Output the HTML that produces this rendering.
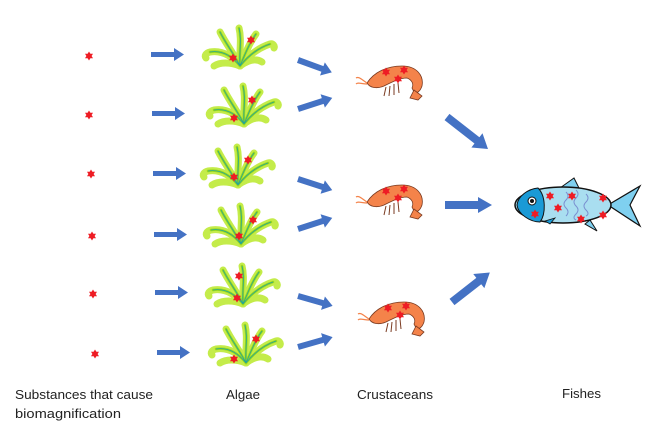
<!DOCTYPE html>
<html><head><meta charset="utf-8"><style>
html,body{margin:0;padding:0;background:#fff;}
svg{display:block;}
text{font-family:"Liberation Sans",sans-serif;font-size:13px;fill:#222;}
</style></head><body>
<svg width="669" height="433" viewBox="0 0 669 433" xmlns="http://www.w3.org/2000/svg">
<defs>
<g id="st"><path d="M0,-4.5 L1.4,-2.3 4,-2.3 2.6,0 4,2.3 1.4,2.3 0,4.5 -1.4,2.3 -4,2.3 -2.6,0 -4,-2.3 -1.4,-2.3Z" fill="#ee1c24"/></g>
<g id="alg">
<g fill="none" stroke="#c4ec4a" stroke-width="7" stroke-linecap="round">
<path d="M0,20 C-8,10 -18,4 -30,6 C-34,7 -36,10 -34,12"/>
<path d="M0,20 C-6,8 -14,-2 -20,-14"/>
<path d="M0,20 C-1,6 2,-6 -1,-18"/>
<path d="M0,20 C5,8 10,-4 16,-12"/>
<path d="M0,20 C8,10 18,2 30,-2 C33,-3 35,0 34,2"/>
<path d="M0,20 C-10,16 -20,16 -26,20"/>
<path d="M0,20 C8,14 16,12 22,16"/>
</g>
<g fill="none" stroke="#9ad81c" stroke-width="2.5" stroke-linecap="round">
<path d="M0,20 C-8,10 -18,4 -30,6"/>
<path d="M0,20 C-6,8 -14,-2 -20,-14"/>
<path d="M0,20 C-1,6 2,-6 -1,-18"/>
<path d="M0,20 C5,8 10,-4 16,-12"/>
<path d="M0,20 C8,10 18,2 30,-2"/>
</g>
<g fill="none" stroke="#22a39a" stroke-width="0.8">
<path d="M0,20 C-8,10 -18,4 -30,6"/>
<path d="M0,20 C-6,8 -14,-2 -20,-14"/>
<path d="M0,20 C-1,6 2,-6 -1,-18"/>
<path d="M0,20 C5,8 10,-4 16,-12"/>
<path d="M0,20 C8,10 18,2 30,-2"/>
</g>
</g>
<g id="shr">
<path d="M-25,3 C-18,-8 -5,-14 10,-14 C25,-14 32,-4 30,6 C28,12 24,14 22,12 L20,8 C22,4 20,0 15,-2 C8,-2 0,2 -8,6 C-15,9 -22,8 -25,3Z" fill="#f4834a" stroke="#7a3a20" stroke-width="0.8"/>
<path d="M22,10 L18,18 26,20 30,16 Z" fill="#f4834a" stroke="#7a3a20" stroke-width="0.8"/>
<g stroke="#7a3a20" stroke-width="1"><path d="M-6,7 L-8,16 M-2,6 L-3,16 M2,4 L2,15 M6,3 L7,13"/></g>
<path d="M-25,3 C-30,0 -33,-4 -36,-2 M-25,4 C-30,4 -34,2 -36,4" stroke="#f4834a" stroke-width="1.2" fill="none"/>
<use href="#st" x="-6" y="-8"/><use href="#st" x="12" y="-10"/><use href="#st" x="6" y="-1"/>
</g>
</defs>

<g fill="#4472c4">
<polygon points="151,52 174,52 174,48 184,54.5 174,61 174,57 151,57"/>
<polygon points="152,111 175,111 175,107 185,113.5 175,120 175,116 152,116"/>
<polygon points="153,171 176,171 176,167 186,173.5 176,180 176,176 153,176"/>
<polygon points="154,232 177,232 177,228 187,234.5 177,241 177,237 154,237"/>
<polygon points="155,290 178,290 178,286 188,292.5 178,299 178,295 155,295"/>
<polygon points="157,350 180,350 180,346 190,352.5 180,359 180,355 157,355"/>
<g transform="translate(298,60) rotate(20)"><polygon points="0,-3 26,-3 26,-7 36,0 26,7 26,3 0,3"/></g>
<g transform="translate(298,109) rotate(-18)"><polygon points="0,-3 26,-3 26,-7 36,0 26,7 26,3 0,3"/></g>
<g transform="translate(298,179) rotate(18)"><polygon points="0,-3 26,-3 26,-7 36,0 26,7 26,3 0,3"/></g>
<g transform="translate(298,229) rotate(-18)"><polygon points="0,-3 26,-3 26,-7 36,0 26,7 26,3 0,3"/></g>
<g transform="translate(298,296) rotate(16)"><polygon points="0,-3 26,-3 26,-7 36,0 26,7 26,3 0,3"/></g>
<g transform="translate(298,347) rotate(-16)"><polygon points="0,-3 26,-3 26,-7 36,0 26,7 26,3 0,3"/></g>
<g transform="translate(447,117) rotate(38)"><polygon points="0,-4 38,-4 38,-9 52,0 38,9 38,4 0,4"/></g>
<polygon points="445,201 478,201 478,197 492,205 478,213 478,209 445,209"/>
<g transform="translate(452,302) rotate(-38)"><polygon points="0,-4 34,-4 34,-9 48,0 34,9 34,4 0,4"/></g>
</g>

<use href="#st" x="89" y="56"/><use href="#st" x="89" y="115"/><use href="#st" x="91" y="174"/>
<use href="#st" x="92" y="236"/><use href="#st" x="93" y="294"/><use href="#st" x="95" y="354"/>

<g transform="translate(240,46)"><use href="#alg"/><use href="#st" x="11" y="-6"/><use href="#st" x="-7" y="12"/></g>
<g transform="translate(244,104)"><use href="#alg"/><use href="#st" x="8" y="-4"/><use href="#st" x="-10" y="14"/></g>
<g transform="translate(238,165)"><use href="#alg"/><use href="#st" x="10" y="-5"/><use href="#st" x="-4" y="12"/></g>
<g transform="translate(241,224)"><use href="#alg"/><use href="#st" x="12" y="-4"/><use href="#st" x="-2" y="12"/></g>
<g transform="translate(243,284)"><use href="#alg"/><use href="#st" x="-4" y="-8"/><use href="#st" x="-6" y="14"/></g>
<g transform="translate(246,343)"><use href="#alg"/><use href="#st" x="10" y="-4"/><use href="#st" x="-12" y="16"/></g>

<use href="#shr" transform="translate(392,80)"/>
<use href="#shr" transform="translate(392,199)"/>
<use href="#shr" transform="translate(394,316)"/>

<path d="M560,188 L574,178 L580,190Z" fill="#7fd0f0" stroke="#111" stroke-width="1"/>
<path d="M608,205 L640,186 L630,205 L640,226Z" fill="#7fd0f0" stroke="#111" stroke-width="1.2"/>
<path d="M590,220 L597,231 L585,224Z" fill="#7fd0f0" stroke="#111" stroke-width="1"/>
<ellipse cx="563" cy="205" rx="48" ry="18" fill="#a9def0" stroke="#111" stroke-width="1.5"/>
<path d="M538,188 C546,196 546,214 540,222 C530,222 518,214 517,205 C518,196 528,189 538,188Z" fill="#1a9ad6" stroke="#111" stroke-width="1"/>
<circle cx="532" cy="201" r="4" fill="#fff" stroke="#111"/><circle cx="532" cy="201" r="2" fill="#111"/>
<path d="M545,221 L555,218 L550,224Z" fill="#1a9ad6" stroke="#111" stroke-width="0.8"/>
<g fill="none" stroke="#7a8fd0" stroke-width="1"><path d="M566,192 q4,4 0,8 q-4,4 0,8 q4,4 0,8"/><path d="M576,190 q4,4 0,8 q-4,4 0,8 q4,4 0,8 q-4,4 0,6"/><path d="M586,194 q4,4 0,8 q-4,4 0,8 q4,4 0,6"/></g>
<use href="#st" x="550" y="196"/><use href="#st" x="572" y="196"/><use href="#st" x="558" y="208"/>
<use href="#st" x="535" y="214"/><use href="#st" x="581" y="219"/><use href="#st" x="603" y="198"/><use href="#st" x="603" y="215"/>

<text x="15" y="399" textLength="138" lengthAdjust="spacingAndGlyphs">Substances that cause</text>
<text x="15" y="418" textLength="106" lengthAdjust="spacingAndGlyphs">biomagnification</text>
<text x="226" y="399" textLength="34" lengthAdjust="spacingAndGlyphs">Algae</text>
<text x="357" y="399" textLength="76" lengthAdjust="spacingAndGlyphs">Crustaceans</text>
<text x="562" y="398" textLength="39" lengthAdjust="spacingAndGlyphs">Fishes</text>
</svg>
</body></html>
